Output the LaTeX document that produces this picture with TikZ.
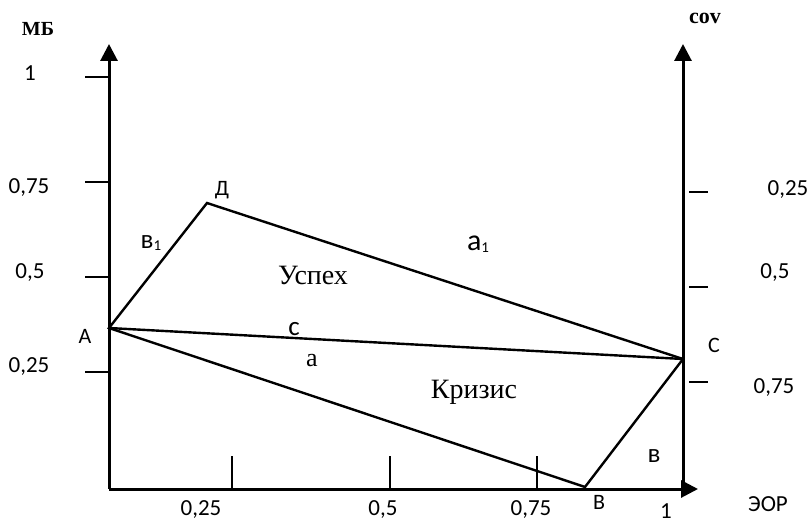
\documentclass[tikz,border=0pt]{standalone}
\usepackage{fontspec}
\setmainfont{Liberation Serif}
\newfontfamily\lblfont{Carlito}
\usetikzlibrary{arrows.meta}
\tikzset{
  axis/.style     = {line width=3pt, -{Triangle[length=17pt,width=17pt]}},
  side/.style     = {line width=2.4pt, line join=miter},
  tickmark/.style = {line width=2.4pt},
  num/.style      = {font=\lblfont\fontsize{23}{25}\selectfont, inner sep=0pt},
  vtx/.style      = {font=\lblfont\fontsize{22}{24}\selectfont, inner sep=0pt},
  low/.style      = {font=\lblfont\fontsize{27}{29}\selectfont, inner sep=0pt},
  zone/.style     = {font=\fontsize{28}{30}\selectfont, inner sep=0pt},
  ttl/.style      = {font=\bfseries\fontsize{20}{22}\selectfont, inner sep=0pt},
}
\newcommand{\lowone}{\raisebox{-2pt}{\fontsize{15}{15}\selectfont 1}}

\begin{document}
\begin{tikzpicture}[x=1pt,y=-1pt]
  \useasboundingbox (0,0) rectangle (811,524);
  % axes
  \coordinate (O)    at (109,489);
  \coordinate (ytop) at (109,44);
  \coordinate (xend) at (698,489);
  \coordinate (R0)   at (683,489);
  \coordinate (rtop) at (683,44);
  \draw[axis] (O) -- (ytop);
  \draw[axis] (O) -- (xend);
  \draw[axis] (R0) -- (rtop);
  % ticks
  \foreach \y in {77,182,277,372} \draw[tickmark] (85,\y) -- (109,\y);
  \foreach \y in {192,287,382} \draw[tickmark] (689,\y) -- (708,\y);
  \foreach \x in {232,390,537} \draw[tickmark] (\x,456) -- (\x,489);
  % scale labels
  \node[ttl] (mb)  at (38,29)  {МБ};
  \node[num] (l1)  at (30,73)  {1};
  \node[num] (l75) at (29,188) {0,75};
  \node[num] (l5)  at (30,273) {0,5};
  \node[num] (l25) at (29,367) {0,25};
  \node[ttl, font=\bfseries\fontsize{22}{24}\selectfont] (cov) at (705,18) {cov};
  \node[num] (r25) at (788,190) {0,25};
  \node[num] (r5)  at (775,273) {0,5};
  \node[num] (r75) at (774,388) {0,75};
  \node[num] (b25) at (201,510) {0,25};
  \node[num] (b5)  at (383,510) {0,5};
  \node[num] (b75) at (531,510) {0,75};
  \node[num] (b1)  at (666,511) {1};
  \node[num] (eor) at (768,504) {ЭОР};
  % quadrilateral
  \coordinate (A) at (109,328);
  \coordinate (D) at (207,203);
  \coordinate (C) at (683,359);
  \coordinate (B) at (585,487);
  \draw[side] (A) -- (D) -- (C) -- (B) -- cycle;
  \draw[side] (A) -- (C);
  % vertex and side labels
  \node[vtx] (lA) at (85,336)  {A};
  \node[vtx] (lD) at (222,190) {Д};
  \node[vtx] (lC) at (714,345) {C};
  \node[vtx] (lB) at (599,502) {B};
  \node[low] (sb)  at (654,456) {в};
  \node[low] (sb1) at (151,243) {в\lowone};
  \node[low, font=\lblfont\fontsize{30}{32}\selectfont] (sa1) at (478,244) {a\lowone};
  \node[low] (sc)  at (294,329) {c};
  \node[zone, font=\fontsize{26}{28}\selectfont] (sa) at (312,361) {a};
  \node[zone] (win)    at (313,275) {Успех};
  \node[zone] (crisis) at (474,392) {Кризис};
\end{tikzpicture}
\end{document}
